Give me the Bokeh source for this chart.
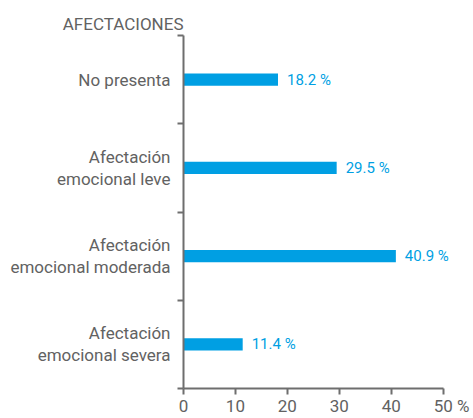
from bokeh.plotting import figure
from bokeh.models import ColumnDataSource, LabelSet, FixedTicker
from bokeh.core.properties import value
from bokeh.embed import file_html
from bokeh.resources import INLINE

# Data
categories = ["No presenta", "Afectación\nemocional leve",
              "Afectación\nemocional moderada", "Afectación\nemocional severa"]
values = [18.2, 29.5, 40.9, 11.4]
value_labels = ["18.2 %", "29.5 %", "40.9 %", "11.4 %"]
x_ticks = [0, 10, 20, 30, 40, 50]
x_tick_labels = ["0", "10", "20", "30", "40", "\u00a0\u00a0\u00a0\u00a050 %"]
title_text = "AFECTACIONES"

FONT = "Roboto"
GRAY = "#626262"
AXIS = "#6e6e6e"
BLUE = "#009fe3"

n = len(categories)
centers = [n - i - 0.5 for i in range(n)]

src = ColumnDataSource(dict(cat=categories, val=values, lab=value_labels, y=centers))

p = figure(width=473, height=418, x_range=(0, 52), y_range=(0, n),
           output_backend="svg", toolbar_location=None,
           min_border_left=183, min_border_right=20,
           min_border_top=35, min_border_bottom=27)
p.outline_line_color = None
p.xgrid.visible = False
p.ygrid.visible = False

p.hbar(y="y", left=0, right="val", height=0.14, source=src,
       fill_color=BLUE, line_color=None)

# title, right-aligned against the y axis
p.title.text = title_text
p.title.align = "right"
p.title.offset = 270
p.title.standoff = 4
p.title.text_font = FONT
p.title.text_font_size = "17px"
p.title.text_font_style = "normal"
p.title.text_color = GRAY

# x axis
xa = p.xaxis[0]
xa.ticker = FixedTicker(ticks=x_ticks)
xa.bounds = (x_ticks[0], x_ticks[-1])
xa.major_label_overrides = {t: l for t, l in zip(x_ticks, x_tick_labels)}
xa.axis_line_color = AXIS
xa.axis_line_width = 2
xa.major_tick_line_color = AXIS
xa.major_tick_line_width = 2
xa.major_tick_out = 6
xa.major_tick_in = 0
xa.minor_tick_line_color = None
xa.major_label_standoff = 1
xa.major_label_text_font = FONT
xa.major_label_text_font_size = "17px"
xa.major_label_text_color = GRAY

# y axis: category labels at band centres, small ticks at band edges
ya = p.yaxis[0]
ya.ticker = FixedTicker(ticks=centers, minor_ticks=list(range(n + 1)))
ya.major_label_overrides = {c: t for c, t in zip(centers, categories)}
ya.major_label_text_font = FONT
ya.major_label_text_font_size = "17px"
ya.major_label_text_color = GRAY
ya.major_label_text_line_height = 1.1
ya.major_label_standoff = 7
ya.major_tick_out = 0
ya.major_tick_in = 0
ya.major_tick_line_color = None
ya.axis_line_color = AXIS
ya.axis_line_width = 2
ya.minor_tick_line_color = AXIS
ya.minor_tick_line_width = 2
ya.minor_tick_out = 6
ya.minor_tick_in = 0

# value labels
p.add_layout(LabelSet(x="val", y="y", text="lab", source=src, x_offset=9,
                      text_font=value(FONT), text_font_size="15px",
                      text_color=BLUE, text_baseline="middle", text_align="left"))

open("out.html", "w").write(file_html(p, INLINE))
